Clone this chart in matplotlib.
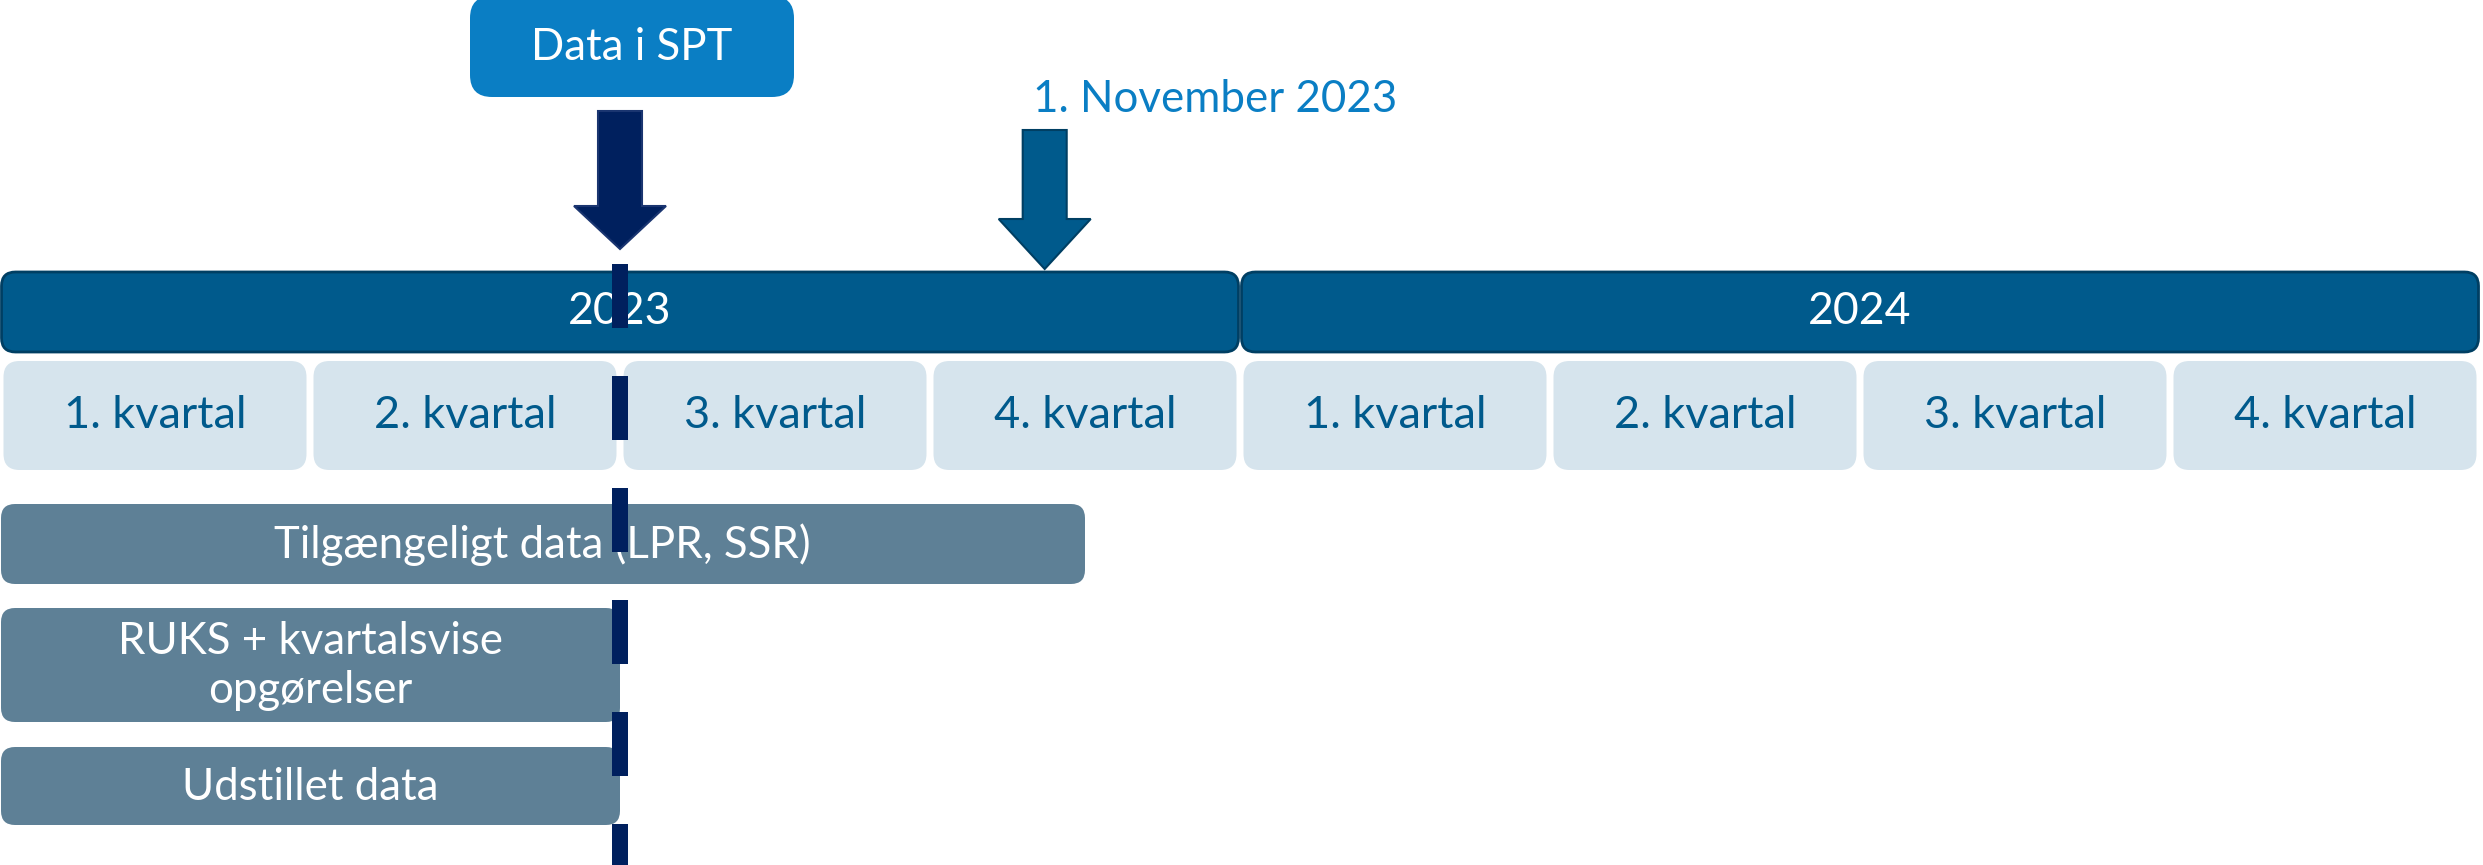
import matplotlib
matplotlib.use("Agg")
import matplotlib.pyplot as plt
from matplotlib.patches import FancyBboxPatch, Polygon

# ---------------- data ----------------
years = ["2023", "2024"]
quarter_labels = ["1. kvartal", "2. kvartal", "3. kvartal", "4. kvartal"]
bar_labels = ["Tilgængeligt data (LPR, SSR)", "RUKS + kvartalsvise\nopgørelser", "Udstillet data"]
bar_start = [0.0, 0.0, 0.0]          # in quarters from 1 Jan 2023
bar_end = [3.5, 2.0, 2.0]
marker_labels = ["Data i SPT", "1. November 2023"]
marker_pos = [2.0, 3.37]             # in quarters from 1 Jan 2023

# ---------------- style ----------------
FONT = ["Lato", "DejaVu Sans"]
C_DATA_BOX = "#0A7EC4"
C_NAVY = "#00205E"
C_YEAR = "#005A8C"
C_YEAR_EDGE = "#003F63"
C_QBOX = "#D6E4ED"
C_QTEXT = "#005A8C"
C_BAR = "#5E8096"
C_NOV = "#0A7EC4"

W, H = 2483, 865
PXQ = 2480 / 8.0  # pixels per quarter

fig = plt.figure(figsize=(W / 100, H / 100), dpi=100)
ax = fig.add_axes([0, 0, 1, 1])
ax.set_xlim(0, W / PXQ)
ax.set_ylim(0, H)
ax.axis("off")


def Y(py):
    return H - py


def rbox(x0, x1, top, bottom, r_px, fc, ec="none", lw=0, z=1):
    r = r_px / PXQ
    p = FancyBboxPatch((x0, Y(bottom)), x1 - x0, bottom - top,
                       boxstyle=f"round,pad=0,rounding_size={r}",
                       mutation_aspect=PXQ, fc=fc, ec=ec, lw=lw, zorder=z)
    ax.add_patch(p)


def arrow(xc, top, tip, shaft_px, head_px, headlen_px, fc, ec, z=3):
    sw = shaft_px / 2 / PXQ
    hw = head_px / 2 / PXQ
    hb = tip - headlen_px
    pts = [(xc - sw, Y(top)), (xc + sw, Y(top)), (xc + sw, Y(hb)), (xc + hw, Y(hb)),
           (xc, Y(tip)), (xc - hw, Y(hb)), (xc - sw, Y(hb))]
    ax.add_patch(Polygon(pts, closed=True, fc=fc, ec=ec, lw=1.5, zorder=z, joinstyle="miter"))


inset = 1.5 / PXQ
# year bars
for i, y in enumerate(years):
    x0 = 4 * i + inset
    x1 = 4 * (i + 1) - inset
    rbox(x0, x1, 272, 352, 14, C_YEAR, ec=C_YEAR_EDGE, lw=2)
    ax.text((x0 + x1) / 2, Y(312), y, ha="center", va="center", color="white",
            fontsize=32, family=FONT, zorder=5)

# quarter boxes
qin = 3.5 / PXQ
for i in range(len(years)):
    for q, lab in enumerate(quarter_labels):
        x0 = 4 * i + q + qin
        x1 = 4 * i + q + 1 - qin
        rbox(x0, x1, 361, 470, 16, C_QBOX)
        ax.text((x0 + x1) / 2, Y(416), lab, ha="center", va="center", color=C_QTEXT,
                fontsize=32.5, family=FONT, zorder=5)

# activity bars
bar_rows = [(504, 584), (608, 722), (747, 825)]
for lab, s, e, (t, b) in zip(bar_labels, bar_start, bar_end, bar_rows):
    rbox(s + 1 / PXQ, e, t, b, 14, C_BAR)
    ax.text((s + e) / 2, Y((t + b) / 2 + 1), lab, ha="center", va="center", color="white",
            fontsize=31.5, family=FONT, zorder=5, linespacing=1.22)

# marker 1: Data i SPT
m1 = marker_pos[0]
rbox(m1 - 150 / PXQ, m1 + 174 / PXQ, -4, 97, 22, C_DATA_BOX, z=3)
ax.text(m1 + 12 / PXQ, Y(48), marker_labels[0], ha="center", va="center", color="white",
        fontsize=31.5, family=FONT, zorder=5)
arrow(m1, 111, 249, 44, 92, 43, C_NAVY, "#1A3570")

# marker 2: 1. November 2023
m2 = marker_pos[1]
ax.text(m2 - 12 / PXQ, Y(100), marker_labels[1], ha="left", va="center", color=C_NOV,
        fontsize=31.6, family=FONT, zorder=5)
arrow(m2, 130, 269, 44, 92, 50, C_YEAR, C_YEAR_EDGE)

# dashed vertical line at marker 1
lw_pt = 16 * 72 / 100
ax.plot([m1, m1], [Y(264), Y(H + 10)], color=C_NAVY, lw=lw_pt, solid_capstyle="butt",
        dash_capstyle="butt", dashes=(64 / 16, 48 / 16), zorder=10)

fig.savefig("out.png", dpi=100)
